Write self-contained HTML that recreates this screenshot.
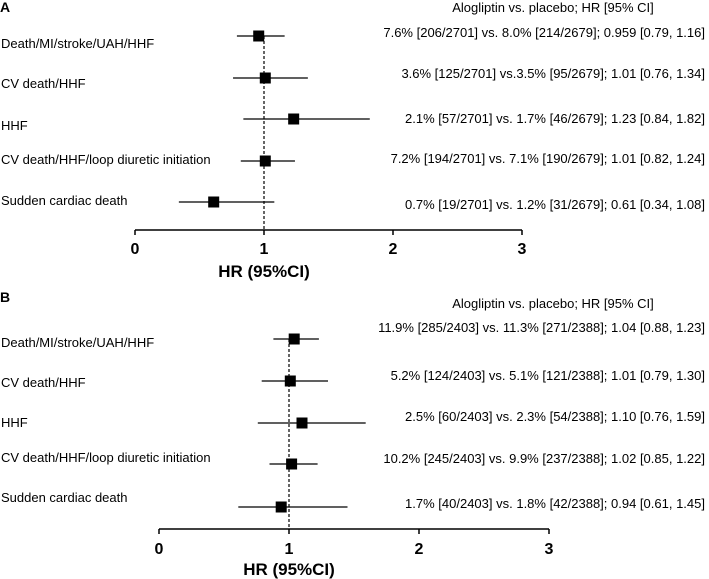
<!DOCTYPE html>
<html><head><meta charset="utf-8"><style>
body{margin:0;background:#fff;width:709px;height:579px;overflow:hidden}
svg{display:block;font-family:"Liberation Sans",sans-serif}
</style></head><body>
<svg id="chart" width="709" height="579"></svg>
<script>
const categories = ["Death/MI/stroke/UAH/HHF","CV death/HHF","HHF","CV death/HHF/loop diuretic initiation","Sudden cardiac death"];
const hrA = [0.959,1.01,1.23,1.01,0.61];
const loA = [0.79,0.76,0.84,0.82,0.34];
const hiA = [1.16,1.34,1.82,1.24,1.08];
const textA = ["7.6% [206/2701] vs. 8.0% [214/2679]; 0.959 [0.79, 1.16]","3.6% [125/2701] vs.3.5% [95/2679]; 1.01 [0.76, 1.34]","2.1% [57/2701] vs. 1.7% [46/2679]; 1.23 [0.84, 1.82]","7.2% [194/2701] vs. 7.1% [190/2679]; 1.01 [0.82, 1.24]","0.7% [19/2701] vs. 1.2% [31/2679]; 0.61 [0.34, 1.08]"];
const hrB = [1.04,1.01,1.10,1.02,0.94];
const loB = [0.88,0.79,0.76,0.85,0.61];
const hiB = [1.23,1.30,1.59,1.22,1.45];
const textB = ["11.9% [285/2403] vs. 11.3% [271/2388]; 1.04 [0.88, 1.23]","5.2% [124/2403] vs. 5.1% [121/2388]; 1.01 [0.79, 1.30]","2.5% [60/2403] vs. 2.3% [54/2388]; 1.10 [0.76, 1.59]","10.2% [245/2403] vs. 9.9% [237/2388]; 1.02 [0.85, 1.22]","1.7% [40/2403] vs. 1.8% [42/2388]; 0.94 [0.61, 1.45]"];
const ticks = [0,1,2,3];

const svg = document.getElementById('chart');
const NS = 'http://www.w3.org/2000/svg';
function mk(tag, attrs, txt){const e=document.createElementNS(NS,tag);for(const k in attrs)e.setAttribute(k,attrs[k]);if(txt!==undefined)e.textContent=txt;svg.appendChild(e);return e;}

function panel(p){
  const x = v => p.x0 + v*p.unit;
  let e = mk('text',{x:0,y:p.top+12,'font-size':14,'font-weight':'bold'},p.letter);
  
  
  e = mk('text',{x:p.hdrX,y:p.hdrY+5,'font-size':13,'text-anchor':'middle'},"Alogliptin vs. placebo; HR [95% CI]");
  
  
  e = mk('line',{x1:x(1),x2:x(1),y1:p.rowY[0],y2:p.axisY,stroke:'#000','stroke-width':1.2,'stroke-dasharray':'3,2'});
  
  
  e = mk('line',{x1:x(0),x2:x(3),y1:p.axisY,y2:p.axisY,stroke:'#000','stroke-width':1.5});
  
  
  ticks.forEach(t=>{
    let l = mk('line',{x1:x(t),x2:x(t),y1:p.axisY,y2:p.axisY+5,stroke:'#000','stroke-width':1.5});
    
    
    let tl = mk('text',{x:x(t),y:p.tickY+6,'font-size':16,'font-weight':'bold','text-anchor':'middle'},String(t));
    
    
  });
  e = mk('text',{x:x(1),y:p.titleY+6,'font-size':17,'font-weight':'bold','text-anchor':'middle'},"HR (95%CI)");
  
  
  categories.forEach((c,i)=>{
    const y = p.rowY[i];
    let lb = mk('text',{x:1,y:p.labY[i]+5,'font-size':13},c);
    
    
    let ci = mk('line',{x1:x(p.lo[i]),x2:x(p.hi[i]),y1:y,y2:y,stroke:'#000','stroke-width':1.3});
    
    
    let sq = mk('rect',{x:x(p.hr[i])-5.5,y:y-5.5,width:11,height:11,fill:'#000'});
    
    
    let rt = mk('text',{x:705,y:p.txtY[i]+5,'font-size':13,'text-anchor':'end'},p.text[i]);
    
    
  });
}
panel({letter:'A',top:0,x0:135,unit:129,axisY:230,tickY:248,titleY:271,hdrX:553,hdrY:7,
  rowY:[36,78,119,161,202],labY:[43,83,125,159,200],txtY:[32,73,118,158,204],
  hr:hrA,lo:loA,hi:hiA,text:textA});
panel({letter:'B',top:290,x0:159,unit:130,axisY:529,tickY:548,titleY:569,hdrX:553,hdrY:303,
  rowY:[339,381,423,464,507],labY:[342,382,422,457,497],txtY:[327,375,416,458,503],
  hr:hrB,lo:loB,hi:hiB,text:textB});
</script>
</body></html>
